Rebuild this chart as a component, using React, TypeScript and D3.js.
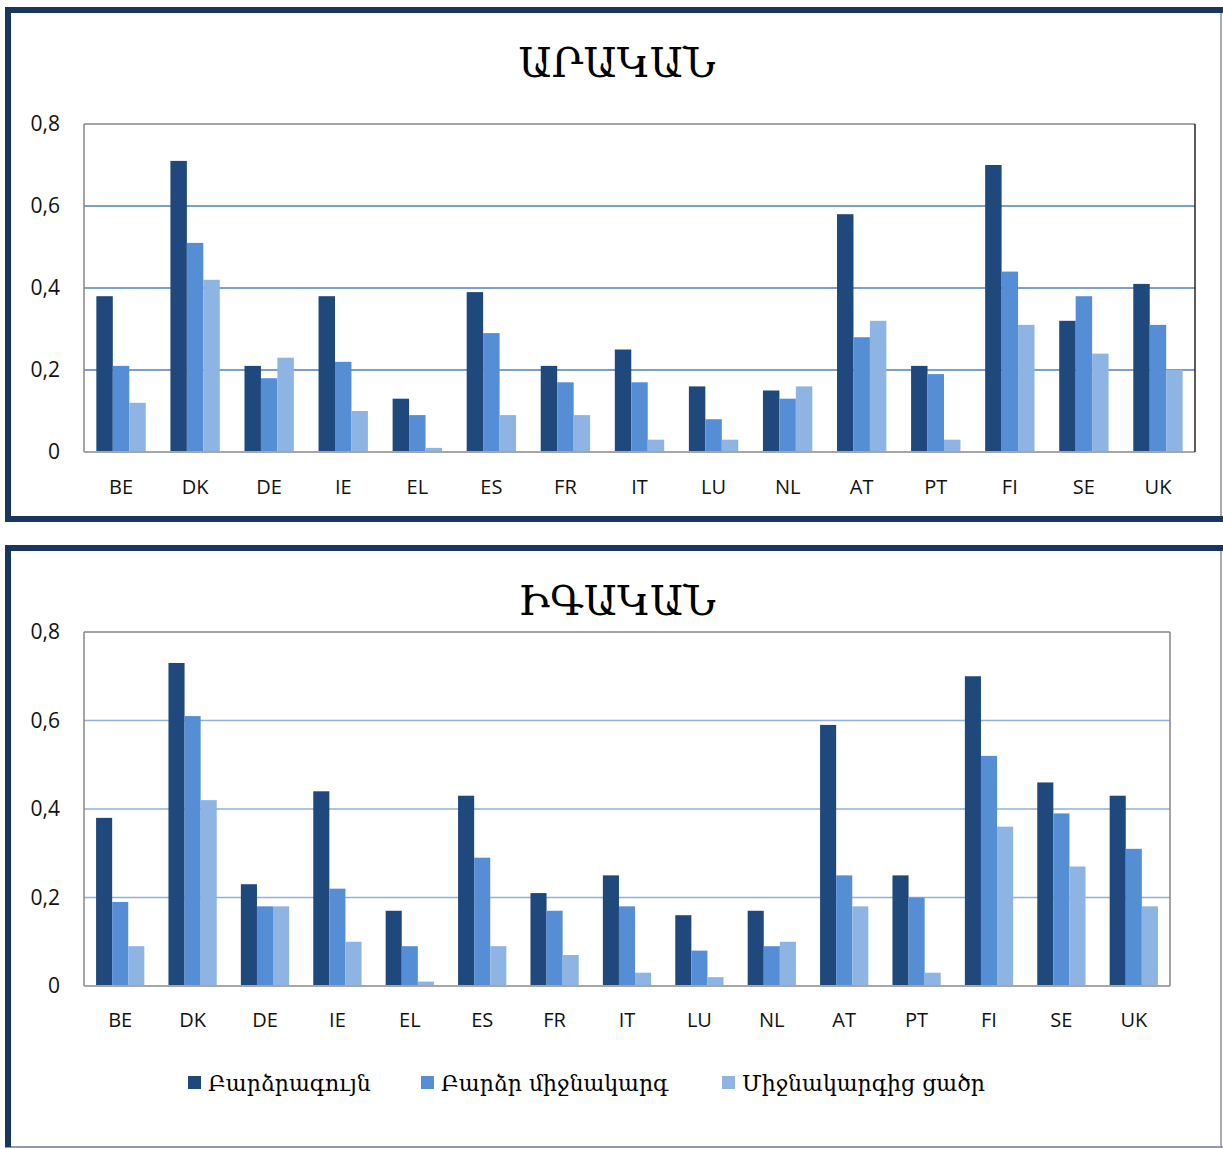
import React from 'react';
import * as d3 from 'd3';

const countries = ['BE', 'DK', 'DE', 'IE', 'EL', 'ES', 'FR', 'IT', 'LU', 'NL', 'AT', 'PT', 'FI', 'SE', 'UK'];
const seriesNames = ['Բարձրագույն', 'Բարձր միջնակարգ', 'Միջնակարգից ցածր'];
const seriesColors = ['#1f497d', '#558ed5', '#8eb4e3'];
const yTicks = [0, 0.2, 0.4, 0.6, 0.8];

// ԱՐԱԿԱՆ (male)
const maleHigher = [0.38, 0.71, 0.21, 0.38, 0.13, 0.39, 0.21, 0.25, 0.16, 0.15, 0.58, 0.21, 0.70, 0.32, 0.41];
const maleUpperSecondary = [0.21, 0.51, 0.18, 0.22, 0.09, 0.29, 0.17, 0.17, 0.08, 0.13, 0.28, 0.19, 0.44, 0.38, 0.31];
const maleBelowSecondary = [0.12, 0.42, 0.23, 0.10, 0.01, 0.09, 0.09, 0.03, 0.03, 0.16, 0.32, 0.03, 0.31, 0.24, 0.20];

// ԻԳԱԿԱՆ (female)
const femaleHigher = [0.38, 0.73, 0.23, 0.44, 0.17, 0.43, 0.21, 0.25, 0.16, 0.17, 0.59, 0.25, 0.70, 0.46, 0.43];
const femaleUpperSecondary = [0.19, 0.61, 0.18, 0.22, 0.09, 0.29, 0.17, 0.18, 0.08, 0.09, 0.25, 0.20, 0.52, 0.39, 0.31];
const femaleBelowSecondary = [0.09, 0.42, 0.18, 0.10, 0.01, 0.09, 0.07, 0.03, 0.02, 0.10, 0.18, 0.03, 0.36, 0.27, 0.18];

const W = 1223;
const H = 1149;
const frameDark = '#17375e';
const sansFont = "'Open Sans', 'DejaVu Sans', sans-serif";
const serifFont = "'DejaVu Serif', serif";

interface PanelProps {
  title: string,
  values: number[][],
  top: number,
  bottom: number,
  titleY: number,
  plotTop: number,
  plotBottom: number,
  plotRight: number,
  labelY: number,
  gridColor: string,
  rightColor: string,
  legendY?: number,
  closedBottom: boolean,
}

const Panel: React.FC<PanelProps> = ({
  title, values, top, bottom, titleY, plotTop, plotBottom, plotRight, labelY,
  gridColor, rightColor, legendY, closedBottom,
}) => {
  const plotLeft = 84;
  const x0 = d3.scaleBand().domain(countries).range([plotLeft, plotRight]);
  const x1 = d3.scaleBand().domain(seriesNames).range([0, x0.bandwidth()])
    .paddingInner(0).paddingOuter(0.75);
  const y = d3.scaleLinear().domain([0, 0.8]).range([plotBottom, plotTop]);
  const fmt = (v: number) => (v === 0 ? '0' : d3.format('.1f')(v).replace('.', ','));

  return (
    <g>
      {/* frame */}
      <line x1={1221} x2={1221} y1={top} y2={bottom} stroke="#a3adba" strokeWidth={2} />
      {closedBottom
        ? <line x1={5} x2={1223} y1={bottom} y2={bottom} stroke={frameDark} strokeWidth={6} />
        : <line x1={5} x2={1223} y1={bottom} y2={bottom} stroke="#8f9bab" strokeWidth={2} />}
      <line x1={5} x2={1223} y1={top} y2={top} stroke={frameDark} strokeWidth={6} />
      <line x1={8} x2={8} y1={top - 3} y2={bottom + (closedBottom ? 3 : 0)} stroke={frameDark} strokeWidth={6} />

      <text x={617} y={titleY} textAnchor="middle" fontFamily={serifFont} fontSize={41} fill="#000">{title}</text>

      {/* gridlines */}
      {yTicks.filter((t) => t > 0 && t < 0.8).map((t) => (
        <line key={t} x1={plotLeft} x2={plotRight} y1={y(t)} y2={y(t)} stroke={gridColor} strokeWidth={1.3} />
      ))}

      {/* bars */}
      {countries.map((c, i) => (
        <g key={c} transform={`translate(${x0(c)},0)`}>
          {seriesNames.map((s, j) => (
            <rect
              key={s}
              x={x1(s)}
              y={y(values[j][i])}
              width={x1.bandwidth()}
              height={plotBottom - y(values[j][i])}
              fill={seriesColors[j]}
            />
          ))}
        </g>
      ))}

      {/* plot border */}
      <line x1={plotLeft} x2={plotRight} y1={plotTop} y2={plotTop} stroke="#868686" strokeWidth={1.5} />
      <line x1={plotLeft} x2={plotLeft} y1={plotTop} y2={plotBottom} stroke="#868686" strokeWidth={1.5} />
      <line x1={plotLeft} x2={plotRight} y1={plotBottom} y2={plotBottom} stroke="#a6a6a6" strokeWidth={2} />
      <line x1={plotRight} x2={plotRight} y1={plotTop} y2={plotBottom} stroke={rightColor} strokeWidth={1.5} />

      {/* y tick labels */}
      {yTicks.map((t) => (
        <text key={t} x={60} y={y(t)} dy="0.35em" textAnchor="end" fontFamily={sansFont} fontSize={21} fill="#111">{fmt(t)}</text>
      ))}

      {/* x labels */}
      {countries.map((c) => (
        <text key={c} x={x0(c)! + x0.bandwidth() / 2} y={labelY} dy="0.35em" textAnchor="middle" fontFamily={sansFont} fontSize={20} fill="#111">{c}</text>
      ))}

      {legendY !== undefined && (
        <g>
          {seriesNames.map((s, j) => {
            const lx = [188, 421, 722][j];
            return (
              <g key={s}>
                <rect x={lx} y={legendY - 7} width={13} height={13} fill={seriesColors[j]} />
                <text x={lx + 20} y={legendY} dy="0.35em" fontFamily={serifFont} fontSize={22} fill="#000">{s}</text>
              </g>
            );
          })}
        </g>
      )}
    </g>
  );
};

export default function App() {
  return (
    <svg width={W} height={H} viewBox={`0 0 ${W} ${H}`} style={{ position: 'absolute', left: 0, top: 0, background: '#fff' }}>
      <rect x={0} y={0} width={W} height={H} fill="#fff" />
      <Panel
        title="ԱՐԱԿԱՆ"
        values={[maleHigher, maleUpperSecondary, maleBelowSecondary]}
        top={10}
        bottom={519}
        titleY={77}
        plotTop={124}
        plotBottom={452}
        plotRight={1195}
        labelY={487}
        gridColor="#4f81bd"
        rightColor="#262626"
        closedBottom
      />
      <Panel
        title="ԻԳԱԿԱՆ"
        values={[femaleHigher, femaleUpperSecondary, femaleBelowSecondary]}
        top={548}
        bottom={1147}
        titleY={615}
        plotTop={632}
        plotBottom={986}
        plotRight={1170}
        labelY={1020}
        gridColor="#8fb1dc"
        rightColor="#868686"
        legendY={1083}
        closedBottom={false}
      />
    </svg>
  );
}
